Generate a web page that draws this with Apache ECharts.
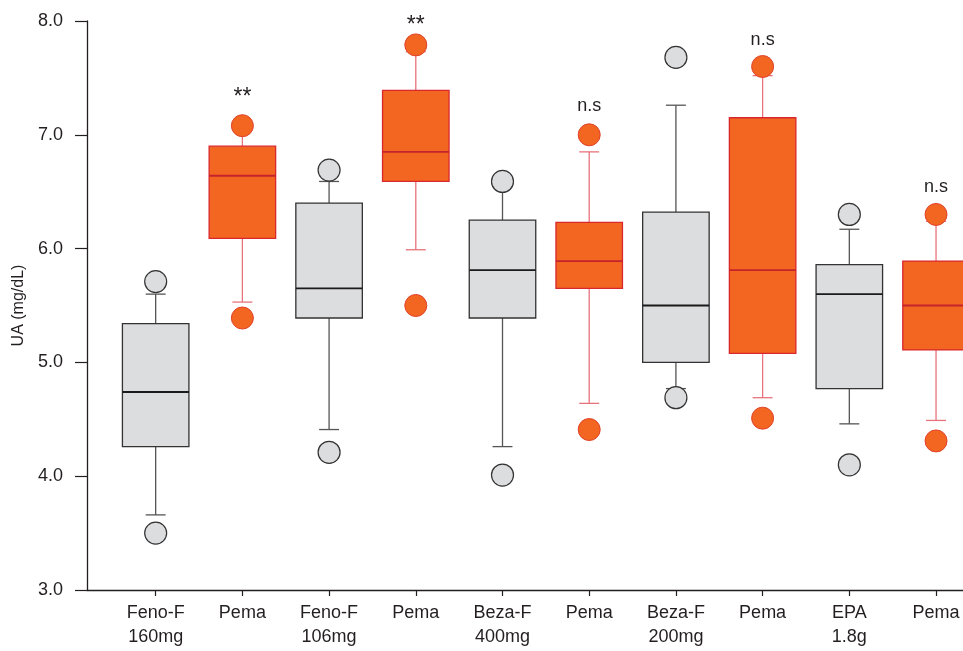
<!DOCTYPE html>
<html>
<head>
<meta charset="utf-8">
<script src="https://cdn.jsdelivr.net/npm/echarts@6/dist/echarts.min.js"></script>
<style>
  html, body { margin: 0; padding: 0; background: #fff; }
  #chart { width: 963px; height: 651px; }
</style>
</head>
<body>
<div id="chart"></div>
<script>
// groups along the x axis
var categories = ['Feno-F\n160mg', 'Pema', 'Feno-F\n106mg', 'Pema', 'Beza-F\n400mg', 'Pema', 'Beza-F\n200mg', 'Pema', 'EPA\n1.8g', 'Pema'];
var isPema = [false, true, false, true, false, true, false, true, false, true];

// [low whisker, Q1, median, Q3, high whisker]
var boxValues = [
    [3.66, 4.26, 4.74, 5.34, 5.60],
    [5.53, 6.09, 6.64, 6.90, 7.07],
    [4.41, 5.39, 5.65, 6.40, 6.59],
    [5.99, 6.59, 6.85, 7.39, 7.73],
    [4.26, 5.39, 5.81, 6.25, 6.58],
    [4.64, 5.65, 5.89, 6.23, 6.85],
    [4.77, 5.00, 5.50, 6.32, 7.26],
    [4.69, 5.08, 5.81, 7.15, 7.52],
    [4.46, 4.77, 5.60, 5.86, 6.17],
    [4.49, 5.11, 5.50, 5.89, 6.24]
];

// outlier points [high, low]
var outlierValues = [
    [5.71, 3.50],
    [7.08, 5.39],
    [6.69, 4.21],
    [7.79, 5.50],
    [6.59, 4.01],
    [7.00, 4.41],
    [7.68, 4.69],
    [7.60, 4.51],
    [6.30, 4.10],
    [6.30, 4.31]
];

// significance marks: [group index (0-based), y position, text]
var marks = [
    [1, 7.33, '**'],
    [3, 7.96, '**'],
    [5, 7.25, 'n.s'],
    [7, 7.83, 'n.s'],
    [9, 6.54, 'n.s']
];

var yTicks = [3, 4, 5, 6, 7, 8];

var GRAY = {fill: '#dcdddf', border: '#333333', median: '#1a1a1a', whisker: '#555555'};
var ORANGE = {fill: '#f36621', border: '#d9272e', median: '#c4232b', whisker: '#e8737c'};

function boxData(pema) {
    var out = [];
    boxValues.forEach(function (b, i) {
        if (isPema[i] === pema) out.push([i + 1].concat(b));
    });
    return out;
}

function outlierData(pema) {
    var out = [];
    outlierValues.forEach(function (o, i) {
        if (isPema[i] !== pema) return;
        o.forEach(function (v) { out.push([i + 1, v]); });
    });
    return out;
}

function makeRender(c) {
    return function (params, api) {
        var x = api.value(0);
        var pLow = api.coord([x, api.value(1)]);
        var pQ1 = api.coord([x, api.value(2)]);
        var pMed = api.coord([x, api.value(3)]);
        var pQ3 = api.coord([x, api.value(4)]);
        var pHigh = api.coord([x, api.value(5)]);
        var half = api.size([0.767, 0])[0] / 2;
        var cap = api.size([0.23, 0])[0] / 2;
        var cx = pQ1[0];
        var wStyle = {stroke: c.whisker, lineWidth: 1.3};
        return {
            type: 'group',
            children: [
                {type: 'line', shape: {x1: cx, y1: pQ1[1], x2: cx, y2: pLow[1]}, style: wStyle},
                {type: 'line', shape: {x1: cx, y1: pQ3[1], x2: cx, y2: pHigh[1]}, style: wStyle},
                {type: 'line', shape: {x1: cx - cap, y1: pLow[1], x2: cx + cap, y2: pLow[1]}, style: wStyle},
                {type: 'line', shape: {x1: cx - cap, y1: pHigh[1], x2: cx + cap, y2: pHigh[1]}, style: wStyle},
                {type: 'rect', shape: {x: cx - half, y: pQ3[1], width: half * 2, height: pQ1[1] - pQ3[1]},
                    style: {fill: c.fill, stroke: c.border, lineWidth: 1.3}},
                {type: 'line', shape: {x1: cx - half, y1: pMed[1], x2: cx + half, y2: pMed[1]},
                    style: {stroke: c.median, lineWidth: 1.8}}
            ]
        };
    };
}

var chart = echarts.init(document.getElementById('chart'));

var option = {
    animation: false,
    textStyle: {fontFamily: 'Liberation Sans, Arial, sans-serif', color: '#231f20'},
    grid: {left: 87, right: 0, top: 21, bottom: 61},
    xAxis: {
        type: 'value',
        min: 0.208,
        max: 10.311,
        splitLine: {show: false},
        axisLine: {lineStyle: {color: '#231f20', width: 1.3}},
        axisTick: {
            show: true,
            customValues: categories.map(function (c, i) { return i + 1; }),
            length: 6,
            lineStyle: {color: '#231f20', width: 1.2}
        },
        axisLabel: {
            customValues: categories.map(function (c, i) { return i + 1; }),
            formatter: function (v) { return categories[Math.round(v) - 1] || ''; },
            fontSize: 18,
            lineHeight: 24,
            margin: 11,
            color: '#231f20'
        }
    },
    yAxis: {
        type: 'value',
        min: 3,
        max: 8,
        interval: 1,
        name: 'UA (mg/dL)',
        nameLocation: 'middle',
        nameGap: 56,
        nameTextStyle: {fontSize: 16, color: '#231f20'},
        splitLine: {show: false},
        axisLine: {show: true, lineStyle: {color: '#231f20', width: 1.3}},
        axisTick: {show: true, length: 12, lineStyle: {color: '#231f20', width: 1.2}},
        axisLabel: {
            fontSize: 18,
            margin: 24,
            color: '#231f20',
            formatter: function (v) { return yTicks.indexOf(v) >= 0 ? v.toFixed(1) : ''; }
        }
    },
    series: [
        {type: 'custom', renderItem: makeRender(GRAY), data: boxData(false), clip: false, z: 2},
        {type: 'custom', renderItem: makeRender(ORANGE), data: boxData(true), clip: false, z: 2},
        {
            type: 'scatter', data: outlierData(false), symbolSize: 22, clip: false, z: 3,
            itemStyle: {color: GRAY.fill, borderColor: '#333333', borderWidth: 1.2, opacity: 1}
        },
        {
            type: 'scatter', data: outlierData(true), symbolSize: 22, clip: false, z: 3,
            itemStyle: {color: ORANGE.fill, borderColor: '#e0402a', borderWidth: 1, opacity: 1}
        },
        {
            type: 'scatter',
            data: marks.map(function (m) { return [m[0] + 1, m[1], m[2]]; }),
            symbolSize: 1,
            clip: false,
            z: 4,
            itemStyle: {color: 'rgba(0,0,0,0)', opacity: 1},
            label: {
                show: true,
                position: 'inside',
                formatter: function (p) { return p.value[2]; },
                fontSize: 18,
                color: '#231f20'
            },
            emphasis: {disabled: true}
        }
    ]
};

// asterisks drawn a bit larger than the n.s marks
option.series[4].data = option.series[4].data.map(function (d) {
    return d[2] === '**' ? {value: d, label: {fontSize: 23}} : {value: d};
});

chart.setOption(option);
</script>
</body>
</html>
